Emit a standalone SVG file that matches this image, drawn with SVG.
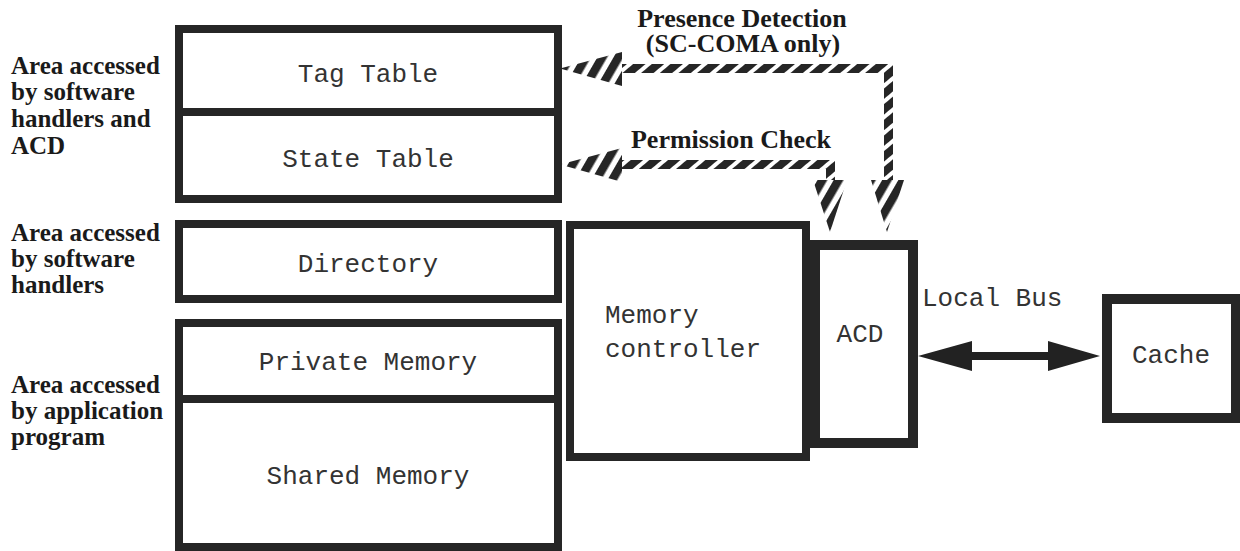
<svg xmlns="http://www.w3.org/2000/svg" width="1240" height="551" viewBox="0 0 1240 551">
  <style>
    .box { fill: #ffffff; stroke: #262626; stroke-width: 8; }
    .thick { stroke-width: 10; }
    .mono { font-family: "Liberation Mono", "Courier New", monospace; font-size: 26px; fill: #333333; }
    .lbl { font-family: "Liberation Serif", "Times New Roman", serif; font-size: 25px; font-weight: bold; fill: #1a1a1a; }
    .top { font-size: 26px; }
  </style>
  <defs>
    <pattern id="hatchShaft" patternUnits="userSpaceOnUse" width="12" height="12" patternTransform="rotate(50)">
      <rect x="0" y="0" width="8" height="12" fill="#262626"/>
    </pattern>
    <pattern id="hatchHead" patternUnits="userSpaceOnUse" width="14" height="14" patternTransform="rotate(30)">
      <rect x="0" y="0" width="8.5" height="14" fill="#262626"/>
    </pattern>
  </defs>
  <rect width="1240" height="551" fill="#ffffff"/>

  <g id="tag-table">
    <rect class="box" x="179" y="29" width="379" height="83"/>
    <text class="mono" x="368" y="82" text-anchor="middle">Tag Table</text>
  </g>
  <g id="state-table">
    <rect class="box" x="179" y="112" width="379" height="87"/>
    <text class="mono" x="368" y="167" text-anchor="middle">State Table</text>
  </g>
  <g id="directory">
    <rect class="box" x="179" y="224" width="379" height="75"/>
    <text class="mono" x="368" y="272" text-anchor="middle">Directory</text>
  </g>
  <g id="private-memory">
    <rect class="box" x="179" y="323" width="379" height="76"/>
    <text class="mono" x="368" y="370" text-anchor="middle">Private Memory</text>
  </g>
  <g id="shared-memory">
    <rect class="box" x="179" y="399" width="379" height="148"/>
    <text class="mono" x="368" y="484" text-anchor="middle">Shared Memory</text>
  </g>
  <g id="memory-controller">
    <rect class="box" x="570" y="225" width="236" height="232"/>
    <text class="mono" x="605" y="323">Memory</text>
    <text class="mono" x="605" y="357">controller</text>
  </g>
  <g id="acd">
    <rect class="box thick" x="815" y="245" width="98" height="198"/>
    <text class="mono" x="860" y="342" text-anchor="middle">ACD</text>
  </g>
  <g id="cache">
    <rect class="box thick" x="1107" y="299" width="129" height="119"/>
    <text class="mono" x="1171" y="363" text-anchor="middle">Cache</text>
  </g>

  <g id="area-labels">
    <text class="lbl" x="11" y="74">Area accessed</text>
    <text class="lbl" x="11" y="100">by software</text>
    <text class="lbl" x="11" y="127">handlers and</text>
    <text class="lbl" x="11" y="154">ACD</text>
    <text class="lbl" x="11" y="241">Area accessed</text>
    <text class="lbl" x="11" y="267">by software</text>
    <text class="lbl" x="11" y="293">handlers</text>
    <text class="lbl" x="11" y="393">Area accessed</text>
    <text class="lbl" x="11" y="419">by application</text>
    <text class="lbl" x="11" y="445">program</text>
  </g>

  <g id="connectors">
    <!-- Presence Detection -->
    <polygon points="560,68.5 622,52 622,86" fill="url(#hatchHead)"/>
    <polygon points="622,64 893,64 893,180 884,180 884,73 622,73" fill="url(#hatchShaft)"/>
    <polygon points="871,180 904,180 887,232" fill="url(#hatchHead)"/>
    <!-- Permission Check -->
    <polygon points="560,164.5 622,148 622,182" fill="url(#hatchHead)"/>
    <polygon points="622,160 835,160 835,180 826,180 826,169 622,169" fill="url(#hatchShaft)"/>
    <polygon points="813,180 847,180 830,232" fill="url(#hatchHead)"/>
    <!-- Local Bus -->
    <polygon points="918,356 972,341 972,352 1048,352 1048,341 1100,356 1048,371 1048,360 972,360 972,371" fill="#222222"/>
  </g>

  <g id="connector-labels">
    <text class="lbl top" x="742" y="27" text-anchor="middle">Presence Detection</text>
    <text class="lbl top" x="743" y="52" text-anchor="middle">(SC-COMA only)</text>
    <text class="lbl top" x="731" y="148" text-anchor="middle">Permission Check</text>
    <text class="mono" x="922" y="306">Local Bus</text>
  </g>
</svg>
